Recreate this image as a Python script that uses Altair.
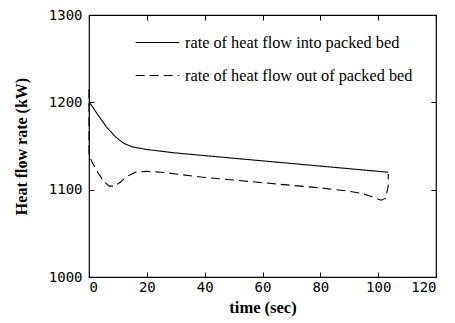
import altair as alt
import pandas as pd

series_in = "rate of heat flow into packed bed"
series_out = "rate of heat flow out of packed bed"

t_in = [0, 1, 3, 6, 9, 12, 15, 20, 30, 40, 50, 60, 70, 80, 90, 100, 103.5]
q_in = [1200, 1196, 1186, 1172, 1161, 1153, 1149, 1146, 1142, 1139, 1136, 1133, 1130, 1127, 1124, 1121, 1120]

t_out = [0, 0, 1, 3, 5, 7, 9, 11, 13, 16, 20, 25, 30, 40, 50, 60, 70, 80, 88, 94, 98, 101, 102.5, 103.5, 103.5]
q_out = [1215, 1140, 1132, 1120, 1110, 1104, 1104, 1109, 1115, 1120, 1121, 1120, 1118, 1114, 1111, 1108, 1105, 1102, 1099, 1096, 1092, 1088, 1090, 1104, 1118]

x_ticks = [0, 20, 40, 60, 80, 100, 120]
y_ticks = [1000, 1100, 1200, 1300]

rows = []
for i, (t, q) in enumerate(zip(t_in, q_in)):
    rows.append({"t": t, "q": q, "s": series_in, "o": i})
for i, (t, q) in enumerate(zip(t_out, q_out)):
    rows.append({"t": t, "q": q, "s": series_out, "o": i})
df = pd.DataFrame(rows)

xs = alt.Scale(domain=[0, 120], nice=False)
ys = alt.Scale(domain=[1000, 1300], nice=False)

mono = "DejaVu Sans Mono"
serif = "Liberation Serif"

main = alt.Chart(df).mark_line(color="black", strokeWidth=1.1).encode(
    x=alt.X("t:Q", scale=xs, title="time  (sec)",
            axis=alt.Axis(orient="bottom", values=x_ticks, offset=-5, tickSize=5,
                          domain=False, labelPadding=3, labelFont=mono, labelFontSize=14,
                          labelColor="black", tickColor="black", grid=False, format="d",
                          titleFont=serif, titleFontSize=16.5, titleFontWeight="bold",
                          titleColor="black", titlePadding=5)),
    y=alt.Y("q:Q", scale=ys, title="Heat flow rate (kW)",
            axis=alt.Axis(orient="left", values=y_ticks, offset=-5, tickSize=5,
                          domain=False, labelPadding=7, labelFont=mono, labelFontSize=14,
                          labelColor="black", tickColor="black", grid=False, format="d",
                          titleFont=serif, titleFontSize=16, titleFontWeight="bold",
                          titleColor="black", titlePadding=19)),
    strokeDash=alt.StrokeDash("s:N",
        scale=alt.Scale(domain=[series_in, series_out], range=[[1, 0], [9, 5]]),
        legend=alt.Legend(title=None, orient="none", legendX=46, legendY=5,
                          symbolType="stroke", symbolSize=1900, symbolStrokeWidth=1.1,
                          symbolStrokeColor="black", labelFont=serif, labelFontSize=16.3,
                          labelColor="black", rowPadding=2, labelOffset=5,
                          labelLimit=400)),
    order="o:Q",
)

mirror = alt.Chart(df).mark_line(opacity=0).encode(
    x=alt.X("t:Q", scale=xs, title=None,
            axis=alt.Axis(orient="top", values=x_ticks, offset=-5, tickSize=5,
                          domain=False, labels=False, tickColor="black", grid=False)),
    y=alt.Y("q:Q", scale=ys, title=None,
            axis=alt.Axis(orient="right", values=y_ticks, offset=-5, tickSize=5,
                          domain=False, labels=False, tickColor="black", grid=False)),
    detail="s:N",
)

chart = alt.layer(main, mirror).resolve_axis(x="independent", y="independent").properties(
    width=347, height=262,
    autosize=alt.AutoSizeParams(type="none"),
    padding={"left": 89, "top": 15, "right": 19, "bottom": 46},
    background="white",
).configure_view(stroke="black", strokeWidth=1.2)

chart.save("out.html", embed_options={"renderer": "svg", "actions": False})
